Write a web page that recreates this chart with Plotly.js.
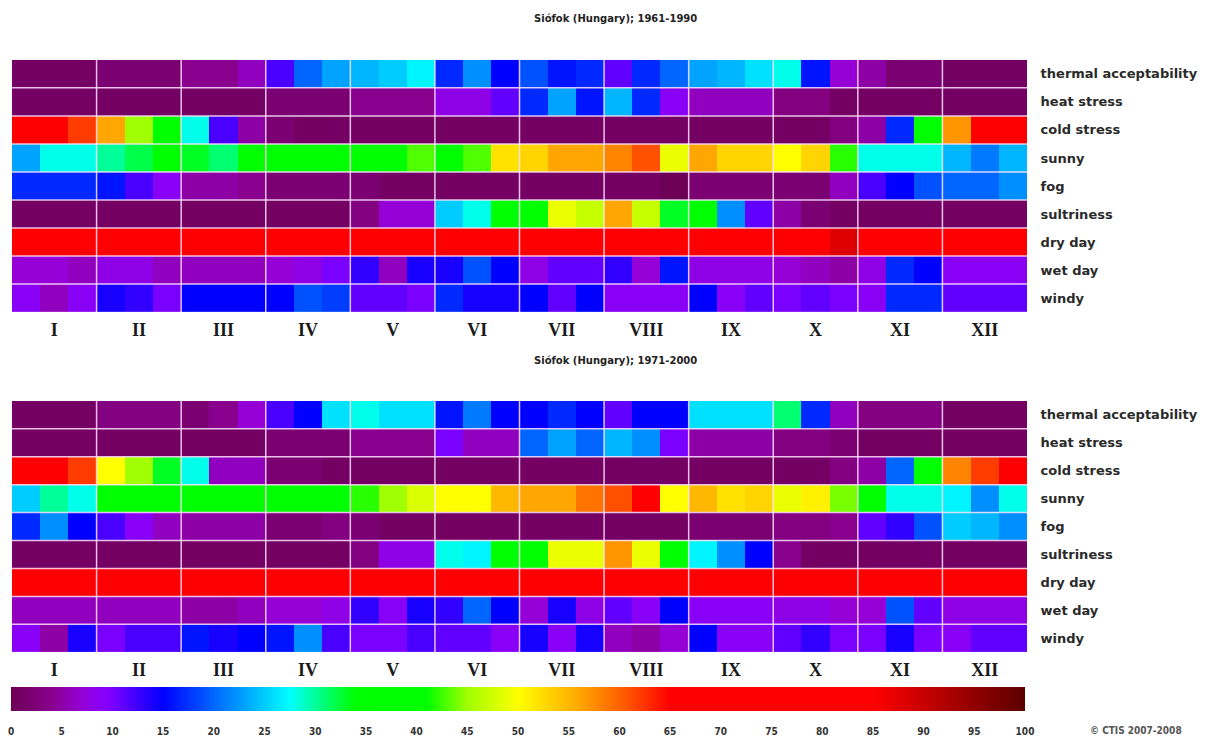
<!DOCTYPE html>
<html>
<head>
<meta charset="utf-8">
<script src="https://cdn.plot.ly/plotly-3.0.1.min.js"></script>
<style>html,body{margin:0;padding:0;background:#fff;}#chart{width:1207px;height:737px;}</style>
</head>
<body>
<div id="chart"></div>
<script>
// ---- data ----
const rows = ["thermal acceptability","heat stress","cold stress","sunny","fog","sultriness","dry day","wet day","windy"];
const months = ["I","II","III","IV","V","VI","VII","VIII","IX","X","XI","XII"];
const decadesPerMonth = 3;
const title1 = "Siófok (Hungary); 1961-1990";
const title2 = "Siófok (Hungary); 1971-2000";
const scaleTicks = [0,5,10,15,20,25,30,35,40,45,50,55,60,65,70,75,80,85,90,95,100];
const credit = "© CTIS 2007-2008";

// 1961-1990, rows x 36 ten-day periods (values in %)
const z1961 = [
  [1,1,1, 2,2,2, 4,4,6, 12,20,23, 24,25,27, 17,22,15, 19,16,17, 11,17,20, 23,24,26, 28,16,7, 5,2,2, 1,1,1],
  [1,1,1, 1,1,1, 1,1,1, 2,2,2, 4,4,4, 8,8,11, 17,23,16, 24,17,9, 6,6,6, 3,3,1, 1,1,1, 1,1,1],
  [70,70,62, 56,45,38, 28,12,5, 2,1,1, 1,1,1, 1,1,1, 1,1,1, 1,1,1, 1,1,1, 1,1,3, 5,17,38, 57,68,68],
  [23,28,28, 30,32,36, 33,31,36, 37,37,38, 38,39,43, 40,43,52, 53,56,56, 58,61,49, 56,53,53, 50,53,42, 28,28,28, 24,21,24],
  [17,17,17, 16,12,9, 5,5,4, 2,2,2, 2,1,1, 1,1,1, 1,1,1, 1,1,0, 2,2,2, 2,2,6, 12,15,19, 20,20,22],
  [1,1,1, 1,1,1, 1,1,1, 1,1,1, 3,7,7, 25,28,38, 38,49,47, 56,47,33, 37,22,11, 5,2,1, 1,1,1, 1,1,1],
  [72,72,72, 72,72,72, 72,72,72, 72,72,72, 72,72,72, 72,72,72, 72,72,72, 72,72,72, 72,72,72, 72,72,88, 72,72,72, 72,72,72],
  [7,7,6, 8,8,6, 6,6,6, 7,8,10, 13,6,14, 14,19,15, 8,11,11, 13,7,16, 8,8,8, 7,6,5, 8,17,15, 9,9,9],
  [9,6,9, 14,13,10, 15,15,15, 15,19,18, 11,11,10, 17,14,14, 15,11,15, 9,9,9, 15,9,11, 10,11,10, 9,17,17, 11,11,11]
];

// 1971-2000
const z1971 = [
  [1,1,1, 3,3,3, 2,4,7, 12,15,26, 28,26,26, 16,21,15, 15,17,15, 11,15,15, 26,26,26, 31,17,6, 3,3,3, 1,1,1],
  [1,1,1, 1,1,1, 1,1,1, 2,2,2, 4,4,4, 10,6,6, 20,23,20, 24,22,10, 5,5,5, 3,3,2, 1,1,1, 1,1,1],
  [70,70,62, 50,45,33, 28,6,6, 2,2,1, 1,1,1, 1,1,1, 1,1,1, 1,1,1, 1,1,1, 1,1,3, 5,20,38, 58,62,67],
  [25,30,28, 37,37,37, 37,38,38, 38,38,39, 42,45,48, 50,50,55, 56,56,59, 61,65,50, 55,52,53, 49,51,44, 38,28,28, 27,22,28],
  [17,22,15, 12,9,6, 5,5,5, 2,2,3, 2,1,1, 1,1,1, 1,1,1, 1,1,1, 2,2,2, 3,3,4, 11,13,19, 25,24,22],
  [1,1,1, 1,1,1, 1,1,1, 1,1,1, 3,8,8, 28,27,38, 38,49,49, 57,49,37, 27,22,15, 4,1,1, 1,1,1, 1,1,1],
  [72,72,72, 72,72,72, 72,72,72, 72,72,72, 72,72,72, 72,72,72, 72,72,72, 72,72,72, 72,72,72, 72,72,72, 72,72,72, 72,72,72],
  [6,6,6, 6,6,6, 5,5,6, 7,7,8, 13,9,14, 13,20,15, 7,14,8, 11,9,15, 9,9,9, 8,8,7, 7,19,11, 8,8,8],
  [9,5,14, 10,12,12, 16,14,15, 16,22,12, 10,10,12, 11,11,9, 14,9,14, 6,5,7, 15,9,9, 11,13,10, 10,14,10, 9,11,11]
];

// ---- build ----
const W = 1207, H = 737;
const nCols = months.length * decadesPerMonth;
const xIdx = Array.from({length: nCols}, (_, i) => i);
const yIdx = rows.map((_, i) => i);
const monthCenters = months.map((_, m) => m * decadesPerMonth + (decadesPerMonth - 1) / 2);

const colorscale = [
  [0.00, '#6c0056'], [0.04, '#8a008e'], [0.07, '#9400d6'], [0.095, '#8600ff'],
  [0.15, '#0000ff'], [0.205, '#0070ff'], [0.275, '#00ffff'], [0.32, '#00ff48'],
  [0.34, '#00ff00'], [0.41, '#00ff00'], [0.45, '#a0ff00'], [0.50, '#ffff00'],
  [0.555, '#ffb000'], [0.605, '#ff5a00'], [0.65, '#ff0000'], [0.85, '#ff0000'],
  [1.00, '#5a0000']
];

const px = v => v / W;
const py = v => 1 - v / H;

const traces = [
  {type: 'heatmap', x: xIdx, y: yIdx, z: z1961, coloraxis: 'coloraxis', xaxis: 'x', yaxis: 'y', hoverinfo: 'z'},
  {type: 'heatmap', x: xIdx, y: yIdx, z: z1971, coloraxis: 'coloraxis', xaxis: 'x2', yaxis: 'y2', hoverinfo: 'z'}
];

const xDomain = [px(12), px(1027)];
const xCommon = {
  domain: xDomain, range: [-0.5, nCols - 0.5], showgrid: false, zeroline: false,
  tickmode: 'array', tickvals: monthCenters, ticktext: months,
  ticks: 'outside', ticklen: 1, tickcolor: 'rgba(0,0,0,0)',
  tickfont: {family: 'Liberation Serif, Times New Roman, serif', size: 18, color: '#1a1a1a', weight: 'bold'},
  fixedrange: true
};
const yCommon = {
  range: [rows.length - 0.5, -0.5], showgrid: false, zeroline: false, side: 'right',
  tickmode: 'array', tickvals: yIdx, ticktext: rows,
  ticks: 'outside', ticklen: 10, tickcolor: 'rgba(0,0,0,0)',
  tickfont: {family: 'DejaVu Sans, Verdana, sans-serif', size: 13, color: '#2a2a2a', weight: 'bold'},
  fixedrange: true
};

const shapes = [];
const gridLine = {color: 'rgba(255,228,255,0.85)', width: 1.5};
[['x','y'],['x2','y2']].forEach(([xr, yr]) => {
  for (let m = 1; m < months.length; m++) {
    const xv = m * decadesPerMonth - 0.5;
    shapes.push({type: 'line', xref: xr, yref: yr, x0: xv, x1: xv, y0: -0.5, y1: rows.length - 0.5, line: gridLine, layer: 'above'});
  }
  for (let r = 1; r < rows.length; r++) {
    const yv = r - 0.5;
    shapes.push({type: 'line', xref: xr, yref: yr, x0: -0.5, x1: nCols - 0.5, y0: yv, y1: yv, line: gridLine, layer: 'above'});
  }
});

const titleFont = {family: 'DejaVu Sans, Verdana, sans-serif', size: 10, color: '#222', weight: 'bold'};

const layout = {
  width: W, height: H,
  margin: {l: 0, r: 0, t: 0, b: 0},
  paper_bgcolor: '#ffffff', plot_bgcolor: '#ffffff',
  showlegend: false,
  xaxis: Object.assign({}, xCommon, {anchor: 'y'}),
  yaxis: Object.assign({}, yCommon, {domain: [py(313), py(60)], anchor: 'x'}),
  xaxis2: Object.assign({}, xCommon, {anchor: 'y2'}),
  yaxis2: Object.assign({}, yCommon, {domain: [py(654), py(402)], anchor: 'x2'}),
  coloraxis: {
    colorscale: colorscale, cmin: 0, cmax: 100,
    colorbar: {
      orientation: 'h', lenmode: 'pixels', len: 1014, thickness: 24,
      x: px(518), xanchor: 'center', y: py(689), yanchor: 'top', yref: 'paper',
      xpad: 0, ypad: 0, outlinewidth: 0,
      tickmode: 'array', tickvals: scaleTicks, ticktext: scaleTicks.map(String),
      ticks: 'outside', ticklen: 12, tickcolor: 'rgba(0,0,0,0)',
      tickfont: {family: 'DejaVu Sans Condensed, DejaVu Sans, sans-serif', size: 10, color: '#333', weight: 'bold'}
    }
  },
  shapes: shapes,
  annotations: [
    {text: title1, x: px(615), y: py(19), xref: 'paper', yref: 'paper', xanchor: 'center', yanchor: 'middle', showarrow: false, font: titleFont},
    {text: title2, x: px(615), y: py(361), xref: 'paper', yref: 'paper', xanchor: 'center', yanchor: 'middle', showarrow: false, font: titleFont},
    {text: credit, x: px(1136), y: py(732), xref: 'paper', yref: 'paper', xanchor: 'center', yanchor: 'middle', showarrow: false,
     font: {family: 'DejaVu Sans Condensed, DejaVu Sans, sans-serif', size: 10, color: '#555', weight: 'bold'}}
  ]
};

Plotly.newPlot('chart', traces, layout, {displayModeBar: false, staticPlot: true});
</script>
</body>
</html>
